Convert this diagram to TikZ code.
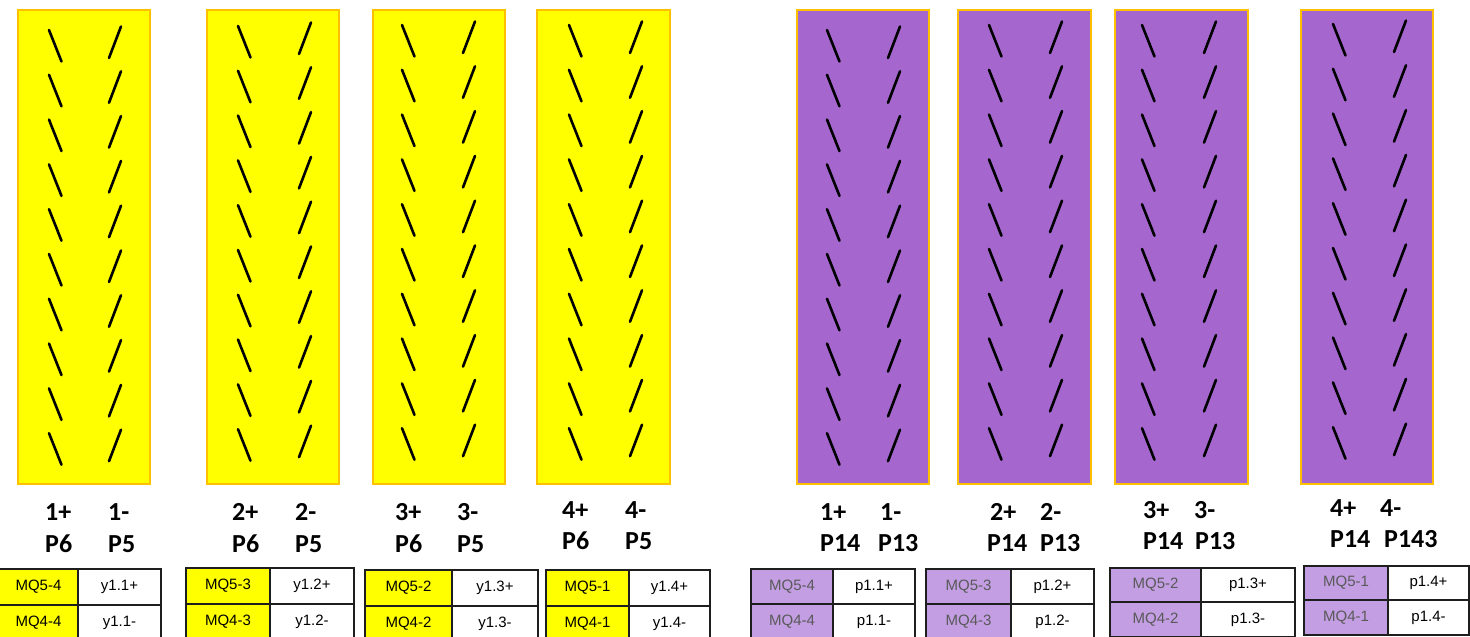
\documentclass[tikz,border=0pt]{standalone}
\usepackage{fontspec}
\setmainfont{Liberation Sans}
\newfontfamily\lblfont{Carlito}
\definecolor{yfill}{RGB}{255,255,0}
\definecolor{pfill}{RGB}{165,103,206}
\definecolor{bord}{RGB}{255,192,0}
\definecolor{ptab}{RGB}{195,158,226}
\definecolor{ptxt}{RGB}{89,89,89}
\definecolor{tline}{RGB}{30,30,30}
\tikzset{
 padbox/.style={draw=bord, line width=2.2pt, fill=#1, inner sep=0pt, anchor=north west},
 slashline/.style={line width=2.6pt, line cap=round, black},
 lbl/.style={font=\lblfont\bfseries\fontsize{26}{30}\selectfont, inner sep=0pt, anchor=base west},
 cell/.style={draw=tline, line width=2pt, inner sep=0pt, font=\fontsize{15}{18}\selectfont, anchor=north west}
}
\begin{document}
\begin{tikzpicture}[x=1pt,y=-1pt]
\useasboundingbox (0,0) rectangle (1470,637);
% boxes with slashes
\foreach \n/\l/\r/\bx/\fx/\ty/\fc in {
  Y1/17/149/49/121/30/yfill, Y2/206/338/238/311/26/yfill,
  Y3/372/504/402/475/25/yfill, Y4/536/669/569/642/25/yfill,
  P1/796/928/827/900/30/pfill, P2/957/1090/989/1062/25/pfill,
  P3/1114/1247/1142/1216/25/pfill, P4/1300/1432/1333/1406/24/pfill}{
  \node[padbox=\fc, minimum width={(\r-\l)*1pt}, minimum height=474pt] (\n) at (\l,8.5) {};
  \foreach \i in {0,...,9}{
    \draw[slashline] ({\bx},{\ty+\i*44.8}) -- ++(12.5,31.5);
    \draw[slashline] ({\fx},{\ty-3.5+\i*44.8}) -- ++(-12,31.5);
  }
}
% labels
\foreach \n/\x/\y/\t in {
  la1/45/520/1+, lb1/108/520/1-, lc1/45/552/P6, ld1/108/552/P5,
  la2/232/520/2+, lb2/295/520/2-, lc2/232/552/P6, ld2/295/552/P5,
  la3/395/520/3+, lb3/457/520/3-, lc3/395/552/P6, ld3/457/552/P5,
  la4/562/518/4+, lb4/625/518/4-, lc4/562/549/P6, ld4/625/549/P5,
  ma1/820/520/1+, mb1/880/520/1-, mc1/820/551/P14, md1/878/551/P13,
  ma2/990/520/2+, mb2/1040/520/2-, mc2/987/551/P14, md2/1040/551/P13,
  ma3/1143/518/3+, mb3/1194/518/3-, mc3/1143/549/P14, md3/1195/549/P13,
  ma4/1330/516/4+, mb4/1380/516/4-, mc4/1330/547/P14, md4/1384/547/P143}{
  \node[lbl] (\n) at (\x,\y) {\t};
}
% tables
\foreach \n/\l/\s/\r/\t/\m/\lf/\lt/\ta/\tb/\tc/\td in {
  T1/-2/77/160/568/604/yfill/black/MQ5-4/y1.1+/MQ4-4/y1.1-,
  T2/185/269/353/567/603/yfill/black/MQ5-3/y1.2+/MQ4-3/y1.2-,
  T3/364/451/537/569/605/yfill/black/MQ5-2/y1.3+/MQ4-2/y1.3-,
  T4/545/628/709/569/605/yfill/black/MQ5-1/y1.4+/MQ4-1/y1.4-,
  U1/750/832/914/568/603/ptab/ptxt/MQ5-4/p1.1+/MQ4-4/p1.1-,
  U2/925/1010/1093/568/603/ptab/ptxt/MQ5-3/p1.2+/MQ4-3/p1.2-,
  U3/1109/1200/1294/567/601/ptab/ptxt/MQ5-2/p1.3+/MQ4-2/p1.3-,
  U4/1303/1387/1468/565/599/ptab/ptxt/MQ5-1/p1.4+/MQ4-1/p1.4-}{
  \node[cell, fill=\lf, text=\lt, minimum width={(\s-\l)*1pt}, minimum height={(\m-\t)*1pt}] (\n-a) at (\l,\t) {\ta};
  \node[cell, fill=white, minimum width={(\r-\s)*1pt}, minimum height={(\m-\t)*1pt}] (\n-b) at (\s,\t) {\tb};
  \node[cell, fill=\lf, text=\lt, minimum width={(\s-\l)*1pt}, minimum height=35pt] (\n-c) at (\l,\m) {\tc};
  \node[cell, fill=white, minimum width={(\r-\s)*1pt}, minimum height=35pt] (\n-d) at (\s,\m) {\td};
}
\end{tikzpicture}
\end{document}
